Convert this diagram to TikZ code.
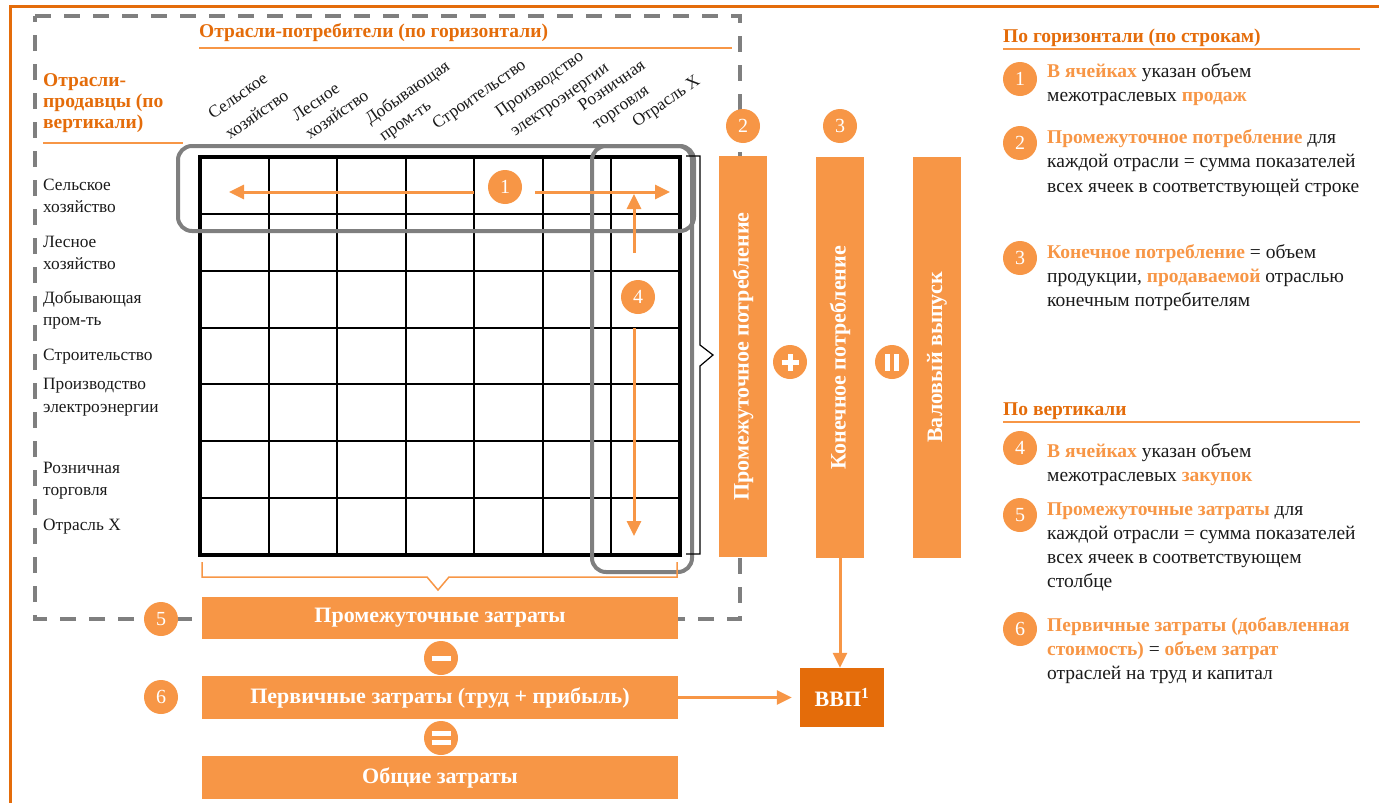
\documentclass[tikz,border=0pt]{standalone}
\usepackage{fontspec}
\setmainfont{Liberation Serif}
\usetikzlibrary{arrows.meta}
\definecolor{lor}{HTML}{F79646}
\definecolor{dor}{HTML}{E46C0A}
\definecolor{gry}{HTML}{7F7F7F}
\definecolor{txt}{HTML}{1A1A1A}
\newcommand{\hi}[1]{\textcolor{lor}{\bfseries #1}}
\tikzset{
  num/.style={circle, fill=lor, text=white, minimum size=34pt, inner sep=0pt, font=\fontsize{20}{20}\selectfont},
  opc/.style={circle, fill=lor, minimum size=34pt, inner sep=0pt},
  opbar/.style={draw=white, line width=5pt},
  obox/.style={fill=lor, inner sep=0pt},
  otext/.style={text=white, inner sep=0pt, font=\fontsize{22}{22}\selectfont\bfseries},
  arr/.style={draw=lor, line width=3pt, -{Triangle[length=15pt,width=14pt]}},
  hl/.style={draw=gry, line width=4pt, rounded corners=14pt},
  lbl/.style={anchor=base west, inner sep=0pt, font=\fontsize{17.3}{17.3}\selectfont, text=txt},
  clbl/.style={lbl, rotate=35},
  body/.style={anchor=base west, inner sep=0pt, font=\fontsize{19.5}{19.5}\selectfont, text=txt},
  hd/.style={anchor=base west, inner sep=0pt, font=\fontsize{19.5}{19.5}\selectfont\bfseries, text=dor},
  uline/.style={draw=lor, line width=1.6pt},
  gridl/.style={draw=black, line width=2pt},
}
\begin{document}
\begin{tikzpicture}[x=1pt,y=-1pt]
\useasboundingbox (0,0) rectangle (1379,803);
% outer frame
\draw[draw=dor, line width=3pt] (10,803) -- (10,6.5) -- (1379,6.5);
% dashed region
\draw[draw=gry, line width=3.5pt, dash pattern=on 16pt off 13pt] (35,16) -- (740,16) -- (740,619) -- (35,619) -- cycle;

% headers
\node[hd] (hcons) at (199,37) {Отрасли-потребители (по горизонтали)};
\draw[uline] (199,48) -- (732,48);
\node[hd] (hsel1) at (43,86) {Отрасли-};
\node[hd] (hsel2) at (43,107) {продавцы (по};
\node[hd] (hsel3) at (43,128) {вертикали)};
\draw[uline] (43,143) -- (183,143);

% column labels
\node[clbl] (c1a) at (213,120) {Сельское};
\node[clbl] (c1b) at (230,140) {хозяйство};
\node[clbl] (c2a) at (297,122) {Лесное};
\node[clbl] (c2b) at (310,140) {хозяйство};
\node[clbl] (c3a) at (370,125) {Добывающая};
\node[clbl] (c3b) at (384,142) {пром-ть};
\node[clbl] (c4a) at (437,130) {Строительство};
\node[clbl] (c5a) at (500,118) {Производство};
\node[clbl] (c5b) at (515,137) {электроэнергии};
\node[clbl] (c6a) at (583,112) {Розничная};
\node[clbl] (c6b) at (597,130) {торговля};
\node[clbl] (c7a) at (637,128) {Отрасль X};

% row labels
\node[lbl] (r1a) at (43,190) {Сельское};
\node[lbl] (r1b) at (43,212) {хозяйство};
\node[lbl] (r2a) at (43,247) {Лесное};
\node[lbl] (r2b) at (43,269) {хозяйство};
\node[lbl] (r3a) at (43,303) {Добывающая};
\node[lbl] (r3b) at (43,325) {пром-ть};
\node[lbl] (r4a) at (43,360) {Строительство};
\node[lbl] (r5a) at (43,389) {Производство};
\node[lbl] (r5b) at (43,412) {электроэнергии};
\node[lbl] (r6a) at (43,473) {Розничная};
\node[lbl] (r6b) at (43,495) {торговля};
\node[lbl] (r7a) at (43,530) {Отрасль X};

% matrix
\node[draw=black, line width=4.5pt, minimum width=480pt, minimum height=398pt, inner sep=0pt] (mx) at (440,356) {};
\foreach \i in {1,...,6} {
  \draw[gridl] ({200+\i*68.571},157) -- ++(0,398);
  \draw[gridl] (200,{157+\i*56.857}) -- ++(480,0);
}
% highlights
\draw[hl] (178,146) rectangle (694,231);
\draw[hl] (592,146) rectangle (692,572);

% brace
\draw[line width=1.2pt] (686,156) -- (700,156) -- (700,345) -- (713,355) -- (700,366) -- (700,554) -- (686,554);
% bottom bracket
\draw[draw=lor, line width=1.5pt] (202,562) -- (202,577) -- (427,577) -- (438,590) -- (449,577) -- (677,577) -- (677,562);

% arrows in matrix
\node[num] (m1) at (505,187) {1};
\node[num] (m4) at (638,297) {4};
\coordinate (a1s) at (474,192);
\coordinate (a1e) at (229,192);
\coordinate (a2s) at (535,192);
\coordinate (a2e) at (670,192);
\coordinate (a3s) at (634,253);
\coordinate (a3e) at (634,194);
\coordinate (a4s) at (634,328);
\coordinate (a4e) at (634,536);
\draw[arr] (a1s) -- (a1e);
\draw[arr] (a2s) -- (a2e);
\draw[arr] (a3s) -- (a3e);
\draw[arr] (a4s) -- (a4e);

% vertical boxes
\node[obox, minimum width=48pt, minimum height=401pt] (b2) at (743,356.5) {};
\node[otext, rotate=90] (t2) at (b2.center) {Промежуточное потребление};
\node[obox, minimum width=48pt, minimum height=401pt] (b3) at (840,357.5) {};
\node[otext, rotate=90] (t3) at (b3.center) {Конечное потребление};
\node[obox, minimum width=48pt, minimum height=401pt] (b4) at (937,357.5) {};
\node[otext, rotate=90] (t4) at (b4.center) {Валовый выпуск};
\node[num] (n2) at (743,126) {2};
\node[num] (n3) at (840,126) {3};
\node[opc] (plus) at (790,362) {};
\draw[opbar] ([xshift=-8.5pt]plus.center) -- ([xshift=8.5pt]plus.center);
\draw[opbar] ([yshift=-8.5pt]plus.center) -- ([yshift=8.5pt]plus.center);
\node[opc] (eqv) at (892,362) {};
\draw[opbar, line width=4.5pt] ([xshift=-4.3pt,yshift=-8.5pt]eqv.center) -- ([xshift=-4.3pt,yshift=8.5pt]eqv.center);
\draw[opbar, line width=4.5pt] ([xshift=4.3pt,yshift=-8.5pt]eqv.center) -- ([xshift=4.3pt,yshift=8.5pt]eqv.center);

% bottom boxes
\node[obox, minimum width=476pt, minimum height=42pt] (b5) at (440,618) {};
\node[otext] (t5) at (b5.center) {Промежуточные затраты};
\node[obox, minimum width=476pt, minimum height=43pt] (b6) at (440,697.5) {};
\node[otext] (t6) at (b6.center) {Первичные затраты (труд + прибыль)};
\node[obox, minimum width=476pt, minimum height=43pt] (b7) at (440,777.5) {};
\node[otext] (t7) at (b7.center) {Общие затраты};
\node[num] (n5) at (161,619) {5};
\node[num] (n6) at (161,697) {6};
\node[opc] (minus) at (441,658) {};
\draw[opbar] ([xshift=-9.5pt]minus.center) -- ([xshift=9.5pt]minus.center);
\node[opc] (eqh) at (441,738) {};
\draw[opbar, line width=4.5pt] ([xshift=-9.5pt,yshift=-4.3pt]eqh.center) -- ([xshift=9.5pt,yshift=-4.3pt]eqh.center);
\draw[opbar, line width=4.5pt] ([xshift=-9.5pt,yshift=4.3pt]eqh.center) -- ([xshift=9.5pt,yshift=4.3pt]eqh.center);

% GDP
\node[fill=dor, text=white, minimum width=84pt, minimum height=59pt, inner sep=0pt, font=\fontsize{22}{22}\selectfont\bfseries] (gdp) at (842,697.5) {ВВП\textsuperscript{1}};
\draw[arr] (b3.south) -- (b3.south |- gdp.north);
\draw[arr, shorten >=8pt] (b6.east) -- (gdp.west);

% right panel
\node[hd] (rh1) at (1003,42) {По горизонтали (по строкам)};
\draw[uline] (1003,49) -- (1360,49);
\node[num] (p1) at (1020,79) {1};
\node[num] (p2) at (1020,143) {2};
\node[num] (p3) at (1020,258) {3};
\node[body] (l1a) at (1047,77) {\hi{В ячейках} указан объем};
\node[body] (l1b) at (1047,101) {межотраслевых \hi{продаж}};
\node[body] (l2a) at (1047,143) {\hi{Промежуточное потребление} для};
\node[body] (l2b) at (1047,167) {каждой отрасли = сумма показателей};
\node[body] (l2c) at (1047,192) {всех ячеек в соответствующей строке};
\node[body] (l3a) at (1047,258) {\hi{Конечное потребление} = объем};
\node[body] (l3b) at (1047,282) {продукции, \hi{продаваемой} отраслью};
\node[body] (l3c) at (1047,306) {конечным потребителям};

\node[hd] (rh2) at (1003,415) {По вертикали};
\draw[uline] (1003,422) -- (1360,422);
\node[num] (p4) at (1020,448) {4};
\node[num] (p5) at (1020,515) {5};
\node[num] (p6) at (1020,629) {6};
\node[body] (l4a) at (1047,457) {\hi{В ячейках} указан объем};
\node[body] (l4b) at (1047,481) {межотраслевых \hi{закупок}};
\node[body] (l5a) at (1047,515) {\hi{Промежуточные затраты} для};
\node[body] (l5b) at (1047,539) {каждой отрасли = сумма показателей};
\node[body] (l5c) at (1047,563) {всех ячеек в соответствующем};
\node[body] (l5d) at (1047,587) {столбце};
\node[body] (l6a) at (1047,631) {\hi{Первичные затраты (добавленная}};
\node[body] (l6b) at (1047,655) {\hi{стоимость)} = \hi{объем затрат}};
\node[body] (l6c) at (1047,679) {отраслей на труд и капитал};
\end{tikzpicture}
\end{document}
